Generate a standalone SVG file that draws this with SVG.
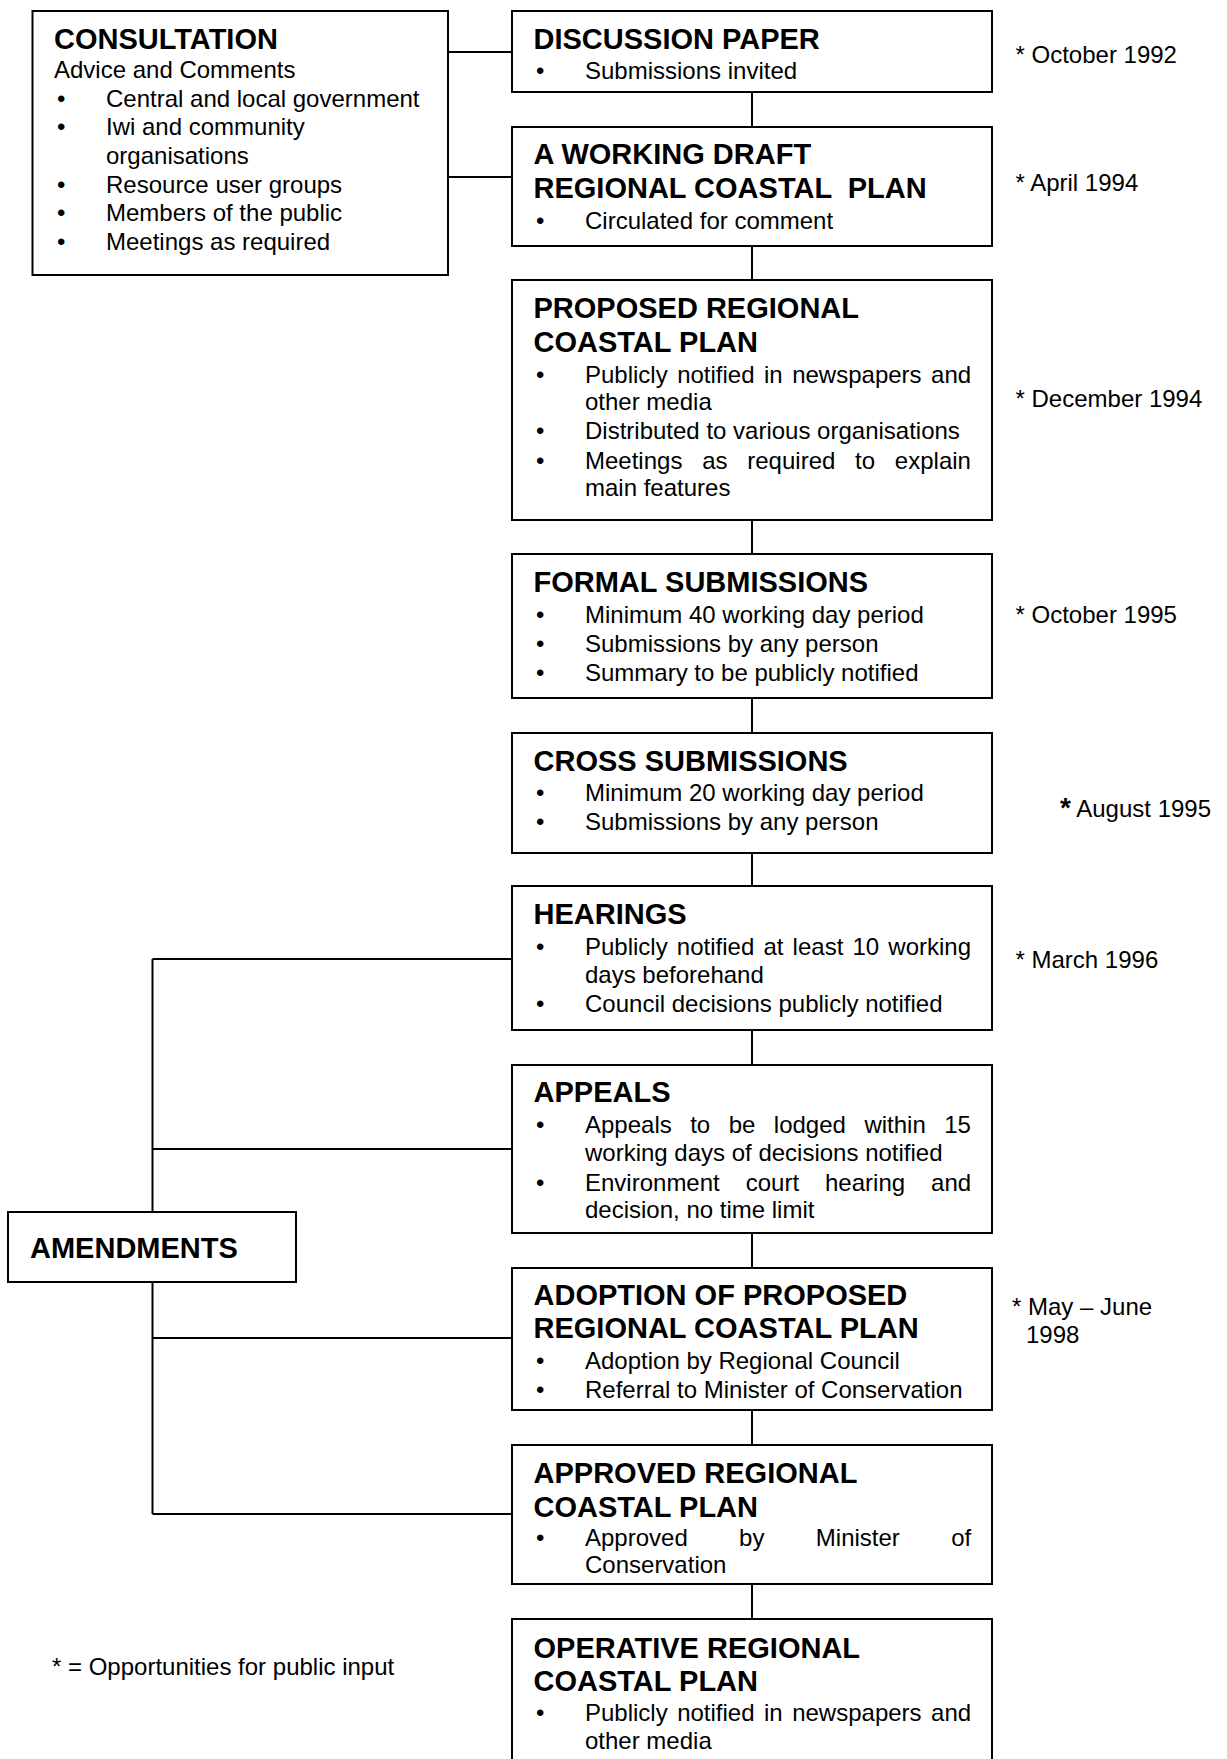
<svg xmlns="http://www.w3.org/2000/svg" width="1227" height="1759" viewBox="0 0 1227 1759">
<style>
  .box { fill: #fff; stroke: #000; stroke-width: 2; }
  .ln { fill: none; stroke: #000; stroke-width: 2; }
  text { font-family: "Liberation Sans", Arial, sans-serif; fill: #000; }
  .h { font-size: 29px; font-weight: bold; }
  .t { font-size: 24px; }
</style>
<rect width="1227" height="1759" fill="#fff"/>
<g id="connectors">
  <path class="ln" d="M448 52H512M448 177H512"/>
  <path class="ln" d="M752 92V127M752 246V280M752 520V554M752 698V733M752 853V886M752 1030V1065M752 1233V1268M752 1410V1445M752 1584V1619"/>
  <path class="ln" d="M152.5 959V1514M152.5 959H512M152.5 1149H512M152.5 1338H512M152.5 1514H512"/>
</g>
<g id="consultation">
  <rect class="box" x="32.5" y="11" width="415.5" height="264"/>
  <text class="h" x="54" y="49">CONSULTATION</text>
  <text class="t" x="54" y="78">Advice and Comments</text>
  <text class="t" x="57" y="107">•</text><text class="t" x="106" y="107">Central and local government</text>
  <text class="t" x="57" y="135">•</text><text class="t" x="106" y="135">Iwi and community</text>
  <text class="t" x="106" y="164">organisations</text>
  <text class="t" x="57" y="193">•</text><text class="t" x="106" y="193">Resource user groups</text>
  <text class="t" x="57" y="221">•</text><text class="t" x="106" y="221">Members of the public</text>
  <text class="t" x="57" y="250">•</text><text class="t" x="106" y="250">Meetings as required</text>
</g>
<g id="discussion">
  <rect class="box" x="512" y="11" width="480" height="81"/>
  <text class="h" x="533.5" y="49">DISCUSSION PAPER</text>
  <text class="t" x="536" y="79">•</text><text class="t" x="585" y="79">Submissions invited</text>
</g>
<g id="working-draft">
  <rect class="box" x="512" y="127" width="480" height="119"/>
  <text class="h" x="533.5" y="164">A WORKING DRAFT</text>
  <text class="h" x="533.5" y="198" xml:space="preserve">REGIONAL COASTAL  PLAN</text>
  <text class="t" x="536" y="229">•</text><text class="t" x="585" y="229">Circulated for comment</text>
</g>
<g id="proposed">
  <rect class="box" x="512" y="280" width="480" height="240"/>
  <text class="h" x="533.5" y="318">PROPOSED REGIONAL</text>
  <text class="h" x="533.5" y="352">COASTAL PLAN</text>
  <text class="t" x="536" y="383">•</text><text class="t" x="585" y="383" word-spacing="2.8">Publicly notified in newspapers and</text>
  <text class="t" x="585" y="410">other media</text>
  <text class="t" x="536" y="439">•</text><text class="t" x="585" y="439">Distributed to various organisations</text>
  <text class="t" x="536" y="469">•</text><text class="t" x="585" y="469" word-spacing="13.1">Meetings as required to explain</text>
  <text class="t" x="585" y="496">main features</text>
</g>
<g id="formal">
  <rect class="box" x="512" y="554" width="480" height="144"/>
  <text class="h" x="533.5" y="592">FORMAL SUBMISSIONS</text>
  <text class="t" x="536" y="623">•</text><text class="t" x="585" y="623">Minimum 40 working day period</text>
  <text class="t" x="536" y="652">•</text><text class="t" x="585" y="652">Submissions by any person</text>
  <text class="t" x="536" y="681">•</text><text class="t" x="585" y="681">Summary to be publicly notified</text>
</g>
<g id="cross">
  <rect class="box" x="512" y="733" width="480" height="120"/>
  <text class="h" x="533.5" y="771">CROSS SUBMISSIONS</text>
  <text class="t" x="536" y="801">•</text><text class="t" x="585" y="801">Minimum 20 working day period</text>
  <text class="t" x="536" y="830">•</text><text class="t" x="585" y="830">Submissions by any person</text>
</g>
<g id="hearings">
  <rect class="box" x="512" y="886" width="480" height="144"/>
  <text class="h" x="533.5" y="924">HEARINGS</text>
  <text class="t" x="536" y="955">•</text><text class="t" x="585" y="955" word-spacing="2.5">Publicly notified at least 10 working</text>
  <text class="t" x="585" y="983">days beforehand</text>
  <text class="t" x="536" y="1012">•</text><text class="t" x="585" y="1012">Council decisions publicly notified</text>
</g>
<g id="appeals">
  <rect class="box" x="512" y="1065" width="480" height="168"/>
  <text class="h" x="533.5" y="1102">APPEALS</text>
  <text class="t" x="536" y="1133">•</text><text class="t" x="585" y="1133" word-spacing="11.8">Appeals to be lodged within 15</text>
  <text class="t" x="585" y="1161">working days of decisions notified</text>
  <text class="t" x="536" y="1191">•</text><text class="t" x="585" y="1191" word-spacing="19.3">Environment court hearing and</text>
  <text class="t" x="585" y="1218">decision, no time limit</text>
</g>
<g id="adoption">
  <rect class="box" x="512" y="1268" width="480" height="142"/>
  <text class="h" x="533.5" y="1305">ADOPTION OF PROPOSED</text>
  <text class="h" x="533.5" y="1338">REGIONAL COASTAL PLAN</text>
  <text class="t" x="536" y="1369">•</text><text class="t" x="585" y="1369">Adoption by Regional Council</text>
  <text class="t" x="536" y="1398">•</text><text class="t" x="585" y="1398">Referral to Minister of Conservation</text>
</g>
<g id="approved">
  <rect class="box" x="512" y="1445" width="480" height="139"/>
  <text class="h" x="533.5" y="1483">APPROVED REGIONAL</text>
  <text class="h" x="533.5" y="1517">COASTAL PLAN</text>
  <text class="t" x="536" y="1546">•</text><text class="t" x="585" y="1546" word-spacing="44.7">Approved by Minister of</text>
  <text class="t" x="585" y="1573">Conservation</text>
</g>
<g id="operative">
  <rect class="box" x="512" y="1619" width="480" height="160"/>
  <text class="h" x="533.5" y="1658">OPERATIVE REGIONAL</text>
  <text class="h" x="533.5" y="1691">COASTAL PLAN</text>
  <text class="t" x="536" y="1721">•</text><text class="t" x="585" y="1721" word-spacing="2.8">Publicly notified in newspapers and</text>
  <text class="t" x="585" y="1749">other media</text>
</g>
<g id="amendments">
  <rect class="box" x="8" y="1212" width="288" height="70"/>
  <text class="h" x="30" y="1258">AMENDMENTS</text>
</g>
<g id="dates">
  <text class="t" x="1015.5" y="63">* October 1992</text>
  <text class="t" x="1015.5" y="191">* April 1994</text>
  <text class="t" x="1015.5" y="407">* December 1994</text>
  <text class="t" x="1015.5" y="623">* October 1995</text>
  <text class="t" x="1060" y="817"><tspan font-size="28" font-weight="bold">*</tspan> August 1995</text>
  <text class="t" x="1015.5" y="968">* March 1996</text>
  <text class="t" x="1012" y="1315">* May – June</text>
  <text class="t" x="1026" y="1343">1998</text>
</g>
<g id="legend">
  <text class="t" x="52" y="1675">* = Opportunities for public input</text>
</g>
</svg>
